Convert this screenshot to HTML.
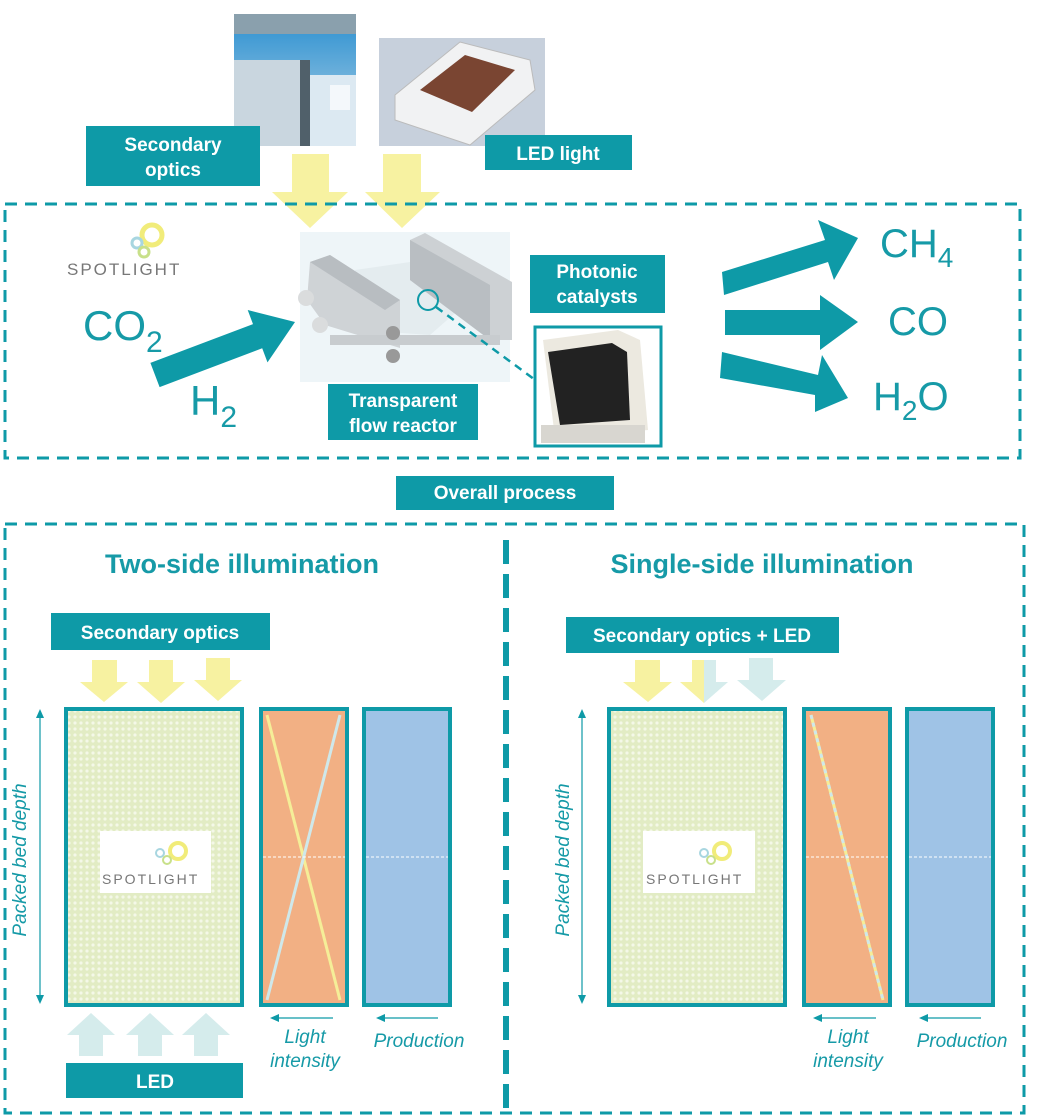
<!DOCTYPE html>
<html><head><meta charset="utf-8"><style>
html,body{margin:0;padding:0;background:#fff;}
svg{display:block;font-family:"Liberation Sans",sans-serif;}
.bw{fill:#fff;font-weight:bold;font-size:19px;text-anchor:middle;}
.tl{fill:#169aa7;}
</style></head><body>
<svg width="1048" height="1117" viewBox="0 0 1048 1117" xmlns="http://www.w3.org/2000/svg">
<defs>
<pattern id="dots" width="6" height="6" patternUnits="userSpaceOnUse">
<rect width="6" height="6" fill="#e2ecc4"/><circle cx="3" cy="3" r="1.6" fill="#f4f8e8"/>
</pattern>
<linearGradient id="sky" x1="0" y1="0" x2="0" y2="1"><stop offset="0" stop-color="#2a8fd0"/><stop offset="1" stop-color="#b8d6e8"/></linearGradient>
</defs>

<rect x="234" y="14" width="122" height="132" fill="url(#sky)"/>
<rect x="234" y="14" width="122" height="20" fill="#8aa0ad"/>
<rect x="234" y="60" width="70" height="86" fill="#c9d6df"/>
<rect x="300" y="60" width="10" height="86" fill="#50606a"/>
<rect x="310" y="75" width="46" height="71" fill="#dce9f2"/>
<rect x="330" y="85" width="20" height="25" fill="#f4f8fb"/>
<rect x="379" y="38" width="166" height="108" fill="#c7d0dc"/>
<polygon points="395,95 460,42 530,60 535,90 470,145 395,120" fill="#f1f2f3" stroke="#bbb"/>
<polygon points="420,90 465,55 515,70 472,112" fill="#7a4532"/>

<rect x="86" y="126" width="174" height="60" fill="#0e9aa7"/>
<text class="bw" x="173" y="151">Secondary</text><text class="bw" x="173" y="176">optics</text>
<rect x="485" y="135" width="147" height="35" fill="#0e9aa7"/>
<text class="bw" x="558" y="160">LED light</text>

<polygon points="292,154 329,154 329,192 348,192 310,228 272,192 292,192" fill="#f7f2a1"/>
<polygon points="383,154 421,154 421,192 440,192 402,228 365,192 383,192" fill="#f7f2a1"/>

<rect x="5" y="204" width="1015" height="254" fill="none" stroke="#0e9aa7" stroke-width="3" stroke-dasharray="12,8"/>

<circle cx="152" cy="235" r="10" fill="none" stroke="#f1ec7a" stroke-width="5"/>
<circle cx="137" cy="243" r="5" fill="none" stroke="#a8d6e0" stroke-width="3"/>
<circle cx="144" cy="252" r="5" fill="none" stroke="#c8e08a" stroke-width="3"/>
<text x="67" y="275" font-size="17" fill="#777" letter-spacing="2">SPOTLIGHT</text>

<text class="tl" x="83" y="340" font-size="42">CO<tspan font-size="30" dy="12">2</tspan></text>
<text class="tl" x="190" y="415" font-size="42">H<tspan font-size="30" dy="12">2</tspan></text>
<polygon points="150.4,362.9 253,324.1 247.7,310 295,322 267.5,362.4 262.2,348.3 159.6,387.1" fill="#0e9aa7"/>

<rect x="300" y="232" width="210" height="150" fill="#eef5f8"/>
<polygon points="355,270 410,262 470,300 430,335 360,330" fill="#e4ecef"/>
<polygon points="310,262 330,255 400,300 400,348 325,325 307,300" fill="#cfd3d6"/>
<polygon points="330,255 400,300 385,310 310,262" fill="#b8bdc1"/>
<polygon points="410,240 425,233 512,282 512,340 490,340 410,280" fill="#cdd1d4"/>
<polygon points="410,240 490,285 490,340 410,280" fill="#b9bec2"/>
<rect x="330" y="335" width="170" height="10" fill="#c8cccf"/>
<circle cx="306" cy="298" r="8" fill="#dadcdd"/><circle cx="320" cy="325" r="8" fill="#dadcdd"/>
<circle cx="393" cy="333" r="7" fill="#999"/><circle cx="393" cy="356" r="7" fill="#999"/>
<circle cx="428" cy="300" r="10" fill="none" stroke="#0e9aa7" stroke-width="2"/>
<line x1="436" y1="307" x2="538" y2="382" stroke="#0e9aa7" stroke-width="2.5" stroke-dasharray="8,6"/>

<rect x="530" y="255" width="135" height="58" fill="#0e9aa7"/>
<text class="bw" x="597" y="278">Photonic</text><text class="bw" x="597" y="303">catalysts</text>
<rect x="328" y="384" width="150" height="56" fill="#0e9aa7"/>
<text class="bw" x="403" y="407">Transparent</text><text class="bw" x="403" y="432">flow reactor</text>

<rect x="535" y="327" width="126" height="119" fill="#fff" stroke="#0e9aa7" stroke-width="3"/>
<polygon points="543,340 618,330 640,340 648,430 555,438" fill="#ece9e0"/>
<polygon points="548,352 612,343 627,352 630,420 560,425" fill="#222"/>
<rect x="541" y="425" width="104" height="18" fill="#d8d6d0"/>

<polygon points="722,272 825,240 818,220 858,238 834,280 828,262 724,295" fill="#0e9aa7"/>
<polygon points="725,310 820,310 820,295 858,322 820,350 820,335 725,335" fill="#0e9aa7"/>
<polygon points="722,352 818,375 822,355 848,398 815,412 815,395 720,378" fill="#0e9aa7"/>
<text class="tl" x="880" y="257" font-size="40">CH<tspan font-size="28" dy="10">4</tspan></text>
<text class="tl" x="888" y="335" font-size="40">CO</text>
<text class="tl" x="873" y="410" font-size="40">H<tspan font-size="28" dy="10">2</tspan><tspan dy="-10">O</tspan></text>

<rect x="396" y="476" width="218" height="34" fill="#0e9aa7"/>
<text class="bw" x="505" y="499">Overall process</text>

<rect x="5" y="524" width="1019" height="589" fill="none" stroke="#0e9aa7" stroke-width="3" stroke-dasharray="12,8"/>
<line x1="506" y1="540" x2="506" y2="1108" stroke="#0e9aa7" stroke-width="6" stroke-dasharray="24,10"/>

<text class="tl" x="242" y="573" font-size="27" font-weight="bold" text-anchor="middle">Two-side illumination</text>
<text class="tl" x="762" y="573" font-size="27" font-weight="bold" text-anchor="middle">Single-side illumination</text>

<rect x="51" y="613" width="219" height="37" fill="#0e9aa7"/>
<text class="bw" x="160" y="639">Secondary optics</text>
<polygon points="92,660 117,660 117,682 128,682 104,702 80,682 92,682" fill="#f7f2a1"/>
<polygon points="149,660 173,660 173,682 185,682 161,703 137,682 149,682" fill="#f7f2a1"/>
<polygon points="206,658 230,658 230,680 242,680 218,701 194,680 206,680" fill="#f7f2a1"/>

<rect x="66" y="709" width="176" height="296" fill="url(#dots)" stroke="#0e9aa7" stroke-width="4"/>
<rect x="100" y="831" width="111" height="62" fill="#fff"/>
<circle cx="178" cy="851" r="8" fill="none" stroke="#f1ec7a" stroke-width="4"/>
<circle cx="160" cy="853" r="4" fill="none" stroke="#a8d6e0" stroke-width="2"/>
<circle cx="167" cy="860" r="4" fill="none" stroke="#c8e08a" stroke-width="2"/>
<text x="102" y="884" font-size="14" fill="#777" letter-spacing="2">SPOTLIGHT</text>

<line x1="40" y1="716" x2="40" y2="997" stroke="#0e9aa7" stroke-width="1.2"/>
<polygon points="40,709 36,718 44,718" fill="#0e9aa7"/><polygon points="40,1004 36,995 44,995" fill="#0e9aa7"/>
<text class="tl" transform="translate(26,860) rotate(-90)" font-size="19" font-style="italic" text-anchor="middle">Packed bed depth</text>

<rect x="261" y="709" width="86" height="296" fill="#f2b084" stroke="#0e9aa7" stroke-width="4"/>
<line x1="267" y1="715" x2="340" y2="1000" stroke="#f5ee98" stroke-width="3"/>
<line x1="340" y1="715" x2="267" y2="1000" stroke="#cfe8ea" stroke-width="3"/>
<line x1="263" y1="857" x2="345" y2="857" stroke="#fff" stroke-width="1" stroke-dasharray="3,2"/>
<rect x="364" y="709" width="86" height="296" fill="#9fc3e6" stroke="#0e9aa7" stroke-width="4"/>
<line x1="366" y1="857" x2="448" y2="857" stroke="#fff" stroke-width="1" stroke-dasharray="3,2"/>

<line x1="276" y1="1018" x2="333" y2="1018" stroke="#0e9aa7" stroke-width="1.2"/><polygon points="270,1018 279,1014 279,1022" fill="#0e9aa7"/>
<line x1="382" y1="1018" x2="438" y2="1018" stroke="#0e9aa7" stroke-width="1.2"/><polygon points="376,1018 385,1014 385,1022" fill="#0e9aa7"/>
<text class="tl" x="305" y="1043" font-size="19" font-style="italic" text-anchor="middle">Light</text>
<text class="tl" x="305" y="1067" font-size="19" font-style="italic" text-anchor="middle">intensity</text>
<text class="tl" x="419" y="1047" font-size="19" font-style="italic" text-anchor="middle">Production</text>

<polygon points="91,1013 115,1035 103,1035 103,1056 79,1056 79,1035 67,1035" fill="#d5ecec"/>
<polygon points="150,1013 174,1035 162,1035 162,1056 138,1056 138,1035 126,1035" fill="#d5ecec"/>
<polygon points="206,1013 230,1035 218,1035 218,1056 194,1056 194,1035 182,1035" fill="#d5ecec"/>
<rect x="66" y="1063" width="177" height="35" fill="#0e9aa7"/>
<text class="bw" x="155" y="1088">LED</text>

<rect x="566" y="617" width="273" height="36" fill="#0e9aa7"/>
<text class="bw" x="702" y="642">Secondary optics +  LED</text>
<polygon points="635,660 660,660 660,682 672,682 648,702 623,682 635,682" fill="#f7f2a1"/>
<polygon points="692,660 704,660 704,703 680,682 692,682" fill="#f7f2a1"/>
<polygon points="704,660 716,660 716,682 728,682 704,703" fill="#d5ecec"/>
<polygon points="749,658 773,658 773,680 786,680 762,701 737,680 749,680" fill="#d5ecec"/>

<rect x="609" y="709" width="176" height="296" fill="url(#dots)" stroke="#0e9aa7" stroke-width="4"/>
<rect x="643" y="831" width="112" height="62" fill="#fff"/>
<circle cx="722" cy="851" r="8" fill="none" stroke="#f1ec7a" stroke-width="4"/>
<circle cx="704" cy="853" r="4" fill="none" stroke="#a8d6e0" stroke-width="2"/>
<circle cx="711" cy="860" r="4" fill="none" stroke="#c8e08a" stroke-width="2"/>
<text x="646" y="884" font-size="14" fill="#777" letter-spacing="2">SPOTLIGHT</text>

<line x1="582" y1="716" x2="582" y2="997" stroke="#0e9aa7" stroke-width="1.2"/>
<polygon points="582,709 578,718 586,718" fill="#0e9aa7"/><polygon points="582,1004 578,995 586,995" fill="#0e9aa7"/>
<text class="tl" transform="translate(569,860) rotate(-90)" font-size="19" font-style="italic" text-anchor="middle">Packed bed depth</text>

<rect x="804" y="709" width="86" height="296" fill="#f2b084" stroke="#0e9aa7" stroke-width="4"/>
<line x1="811" y1="715" x2="883" y2="1000" stroke="#f5ee98" stroke-width="3"/>
<line x1="811" y1="715" x2="883" y2="1000" stroke="#cfe8ea" stroke-width="3" stroke-dasharray="4,4"/>
<line x1="806" y1="857" x2="888" y2="857" stroke="#fff" stroke-width="1" stroke-dasharray="3,2"/>
<rect x="907" y="709" width="86" height="296" fill="#9fc3e6" stroke="#0e9aa7" stroke-width="4"/>
<line x1="909" y1="857" x2="991" y2="857" stroke="#fff" stroke-width="1" stroke-dasharray="3,2"/>

<line x1="819" y1="1018" x2="876" y2="1018" stroke="#0e9aa7" stroke-width="1.2"/><polygon points="813,1018 822,1014 822,1022" fill="#0e9aa7"/>
<line x1="925" y1="1018" x2="981" y2="1018" stroke="#0e9aa7" stroke-width="1.2"/><polygon points="919,1018 928,1014 928,1022" fill="#0e9aa7"/>
<text class="tl" x="848" y="1043" font-size="19" font-style="italic" text-anchor="middle">Light</text>
<text class="tl" x="848" y="1067" font-size="19" font-style="italic" text-anchor="middle">intensity</text>
<text class="tl" x="962" y="1047" font-size="19" font-style="italic" text-anchor="middle">Production</text>
</svg>
</body></html>
